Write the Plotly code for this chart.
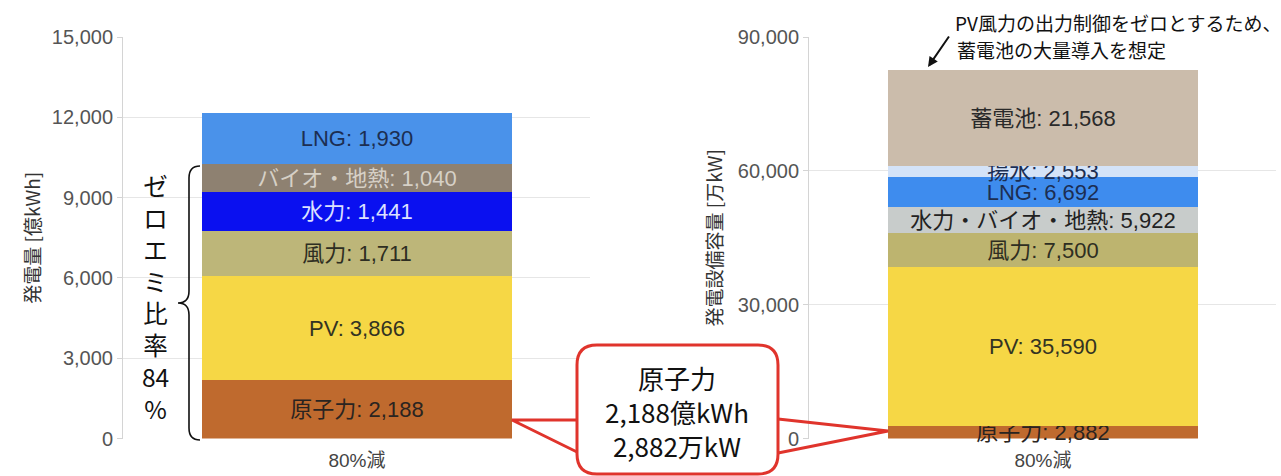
import plotly.graph_objects as go

W, H = 1281, 476

category = ["80%減"]

gen_names = ["原子力", "PV", "風力", "水力", "バイオ・地熱", "LNG"]
gen_values = [2188, 3866, 1711, 1441, 1040, 1930]
gen_colors = ["#BF6A2E", "#F6D745", "#BDB679", "#0A10F0", "#8E8171", "#4A92EA"]
gen_text_colors = ["#2A2420", "#333322", "#2E2E22", "#DCE0FF", "#D6D0C6", "#1C2E52"]

cap_names = ["原子力", "PV", "風力", "水力・バイオ・地熱", "LNG", "揚水", "蓄電池"]
cap_values = [2882, 35590, 7500, 5922, 6692, 2553, 21568]
cap_colors = ["#BF6A2E", "#F6D745", "#BDB46F", "#C8CCCB", "#3E8CEE", "#D4E3F8", "#CBBCAB"]
cap_text_colors = ["#2A2420", "#333322", "#2E2E22", "#222222", "#1C2E52", "#1C2E52", "#2A2A2A"]

left_ticks = [0, 3000, 6000, 9000, 12000, 15000]
right_ticks = [0, 30000, 60000, 90000]

left_title = "発電量 [億kWh]"
right_title = "発電設備容量 [万kW]"

callout_text = "原子力<br>2,188億kWh<br>2,882万kW"
brace_text = "ゼ<br>ロ<br>エ<br>ミ<br>比<br>率<br>84<br>%"
note_line1 = "PV風力の出力制御をゼロとするため、"
note_line2 = "蓄電池の大量導入を想定"

LAT = "Liberation Sans, Noto Sans CJK JP, sans-serif"
JP = "Noto Sans CJK JP, sans-serif"


def X(px):
    return px / W


def Y(py):
    return 1 - py / H


def P(x, y):
    return f"{X(x):.5f},{Y(y):.5f}"


fig = go.Figure()

for n, v, c, tc in zip(gen_names, gen_values, gen_colors, gen_text_colors):
    fig.add_trace(go.Bar(
        x=category, y=[v], width=1, name=n,
        marker=dict(color=c, line=dict(width=0)),
        text=[f"{n}: {v:,}"], textposition="inside", insidetextanchor="middle",
        textangle=0, constraintext="none", cliponaxis=False,
        textfont=dict(family=LAT, size=22, color=tc),
        xaxis="x", yaxis="y", showlegend=False, hoverinfo="skip",
    ))

for n, v, c, tc in zip(cap_names, cap_values, cap_colors, cap_text_colors):
    fig.add_trace(go.Bar(
        x=category, y=[v], width=1, name=n,
        marker=dict(color=c, line=dict(width=0)),
        text=[f"{n}: {v:,}"], textposition="inside", insidetextanchor="middle",
        textangle=0, constraintext="none", cliponaxis=False,
        textfont=dict(family=LAT, size=22, color=tc),
        xaxis="x2", yaxis="y2", showlegend=False, hoverinfo="skip",
    ))

ydom = [Y(438.5), Y(37)]
xr = [-0.755, 0.752]

axis_common_y = dict(
    tickformat=",", showgrid=True, gridcolor="#E6E6E6", gridwidth=1,
    showline=True, linecolor="#D4D4D4", linewidth=1,
    ticks="outside", ticklen=5, tickcolor="#D4D4D4",
    tickfont=dict(family=LAT, size=20, color="#555555"),
    zeroline=False, fixedrange=True, automargin=False,
)
axis_common_x = dict(
    type="category", range=xr, showgrid=False, showline=False, ticks="",
    tickfont=dict(family=LAT, size=19, color="#444444"), zeroline=False,
    ticklabelstandoff=8, automargin=False,
)

fig.update_layout(
    width=W, height=H,
    margin=dict(l=0, r=0, t=0, b=0, pad=0, autoexpand=False),
    paper_bgcolor="white", plot_bgcolor="white",
    barmode="stack", bargap=0, showlegend=False,
    xaxis=dict(domain=[X(123), X(590)], anchor="y", **axis_common_x),
    yaxis=dict(domain=ydom, anchor="x", range=[0, 15000], tickvals=left_ticks,
               title=dict(text=left_title, standoff=6,
                          font=dict(family=JP, size=19, color="#333333")),
               **axis_common_y),
    xaxis2=dict(domain=[X(809), X(1276)], anchor="y2", **axis_common_x),
    yaxis2=dict(domain=ydom, anchor="x2", range=[0, 90000], tickvals=right_ticks,
                title=dict(text=right_title, standoff=10,
                           font=dict(family=JP, size=19, color="#333333")),
                **axis_common_y),
)

# brace for zero-emission share
brace = (f"M {P(200,166)} Q {P(189,166)} {P(189,178)} L {P(189,291)} "
         f"Q {P(189,303)} {P(178,303)} Q {P(189,303)} {P(189,315)} "
         f"L {P(189,428)} Q {P(189,440)} {P(200,440)}")
fig.add_shape(type="path", path=brace, xref="paper", yref="paper",
              line=dict(color="#111111", width=1.6), layer="above")

# callout box
x0, x1, y0, y1, r = 577, 778, 345, 474, 20
box = (f"M {P(x0+r,y0)} L {P(x1-r,y0)} Q {P(x1,y0)} {P(x1,y0+r)} "
       f"L {P(x1,y1-r)} Q {P(x1,y1)} {P(x1-r,y1)} L {P(x0+r,y1)} "
       f"Q {P(x0,y1)} {P(x0,y1-r)} L {P(x0,y0+r)} Q {P(x0,y0)} {P(x0+r,y0)} Z")
red = "#E0342C"
fig.add_shape(type="path", path=box, xref="paper", yref="paper",
              line=dict(color=red, width=3), fillcolor="white", layer="above")
fig.add_shape(type="path", path=f"M {P(577,420)} L {P(512,420)} L {P(577,452)}",
              xref="paper", yref="paper", line=dict(color=red, width=3), layer="above")
fig.add_shape(type="path", path=f"M {P(778,419)} L {P(888,431)} L {P(778,453)}",
              xref="paper", yref="paper", line=dict(color=red, width=3), layer="above")

fig.add_annotation(x=X(677), y=Y(411), xref="paper", yref="paper",
                   text=callout_text, showarrow=False, align="center",
                   xanchor="center", yanchor="middle",
                   font=dict(family=JP, size=26, color="#111111"))

fig.add_annotation(x=X(155), y=Y(297), xref="paper", yref="paper",
                   text=brace_text, showarrow=False, align="center",
                   xanchor="center", yanchor="middle",
                   font=dict(family=JP, size=24.5, color="#111111"))

fig.add_annotation(x=X(953), y=Y(22), xref="paper", yref="paper",
                   text=note_line1, showarrow=False, xanchor="left", yanchor="middle",
                   font=dict(family=JP, size=19, color="#111111"))
fig.add_annotation(x=X(955), y=Y(50), xref="paper", yref="paper",
                   text=note_line2, showarrow=False, xanchor="left", yanchor="middle",
                   font=dict(family=JP, size=19, color="#111111"))
fig.add_annotation(x=X(928), y=Y(67), xref="paper", yref="paper", text="",
                   showarrow=True, ax=22, ay=-32, arrowhead=2, arrowsize=1,
                   arrowwidth=2, arrowcolor="#111111")

fig.write_html("out.html")
